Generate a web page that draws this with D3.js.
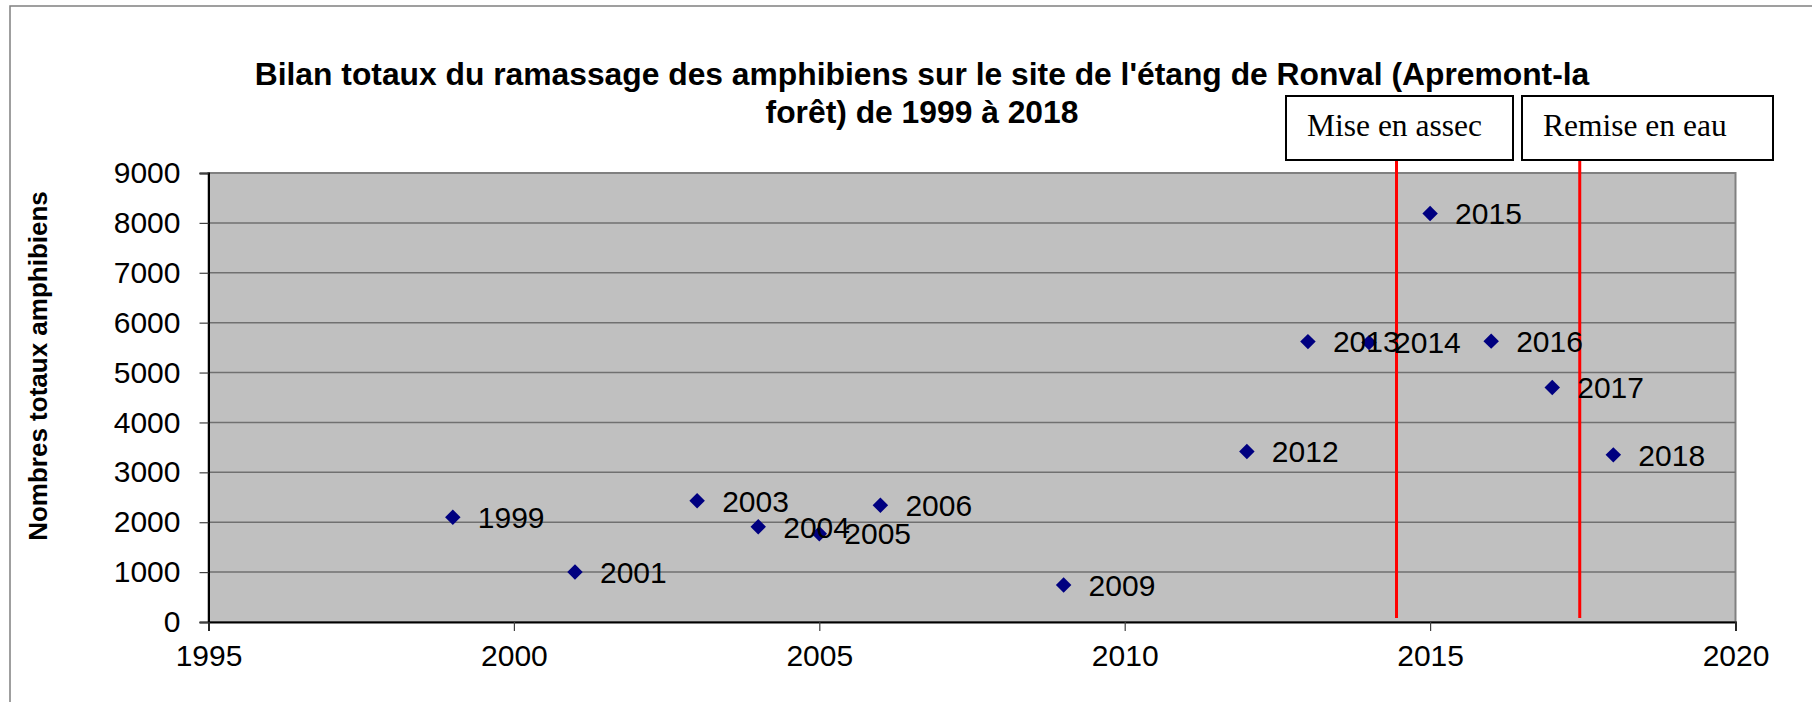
<!DOCTYPE html>
<html>
<head>
<meta charset="utf-8">
<script src="https://cdn.jsdelivr.net/npm/d3@7"></script>
<style>
body { margin: 0; background: #fff; }
text { font-family: "Liberation Sans", Arial, sans-serif; }
</style>
</head>
<body>
<div id="chart"></div>
<script>
// data
const years = [1999, 2001, 2003, 2004, 2005, 2006, 2009, 2012, 2013, 2014, 2015, 2016, 2017, 2018];
const totals = [2100, 1000, 2430, 1910, 1770, 2340, 740, 3420, 5620, 5600, 8190, 5630, 4700, 3350];
const pointLabels = ["1999", "2001", "2003", "2004", "2005", "2006", "2009", "2012", "2013", "2014", "2015", "2016", "2017", "2018"];
const xTicks = [1995, 2000, 2005, 2010, 2015, 2020];
const yTicks = [0, 1000, 2000, 3000, 4000, 5000, 6000, 7000, 8000, 9000];
const eventNames = ["Mise en assec", "Remise en eau"];
const eventYears = [2014.45, 2017.45];
const titleLines = ["Bilan totaux du ramassage des amphibiens sur le site de l'étang de Ronval (Apremont-la", "forêt) de 1999 à 2018"];
const yLabel = "Nombres totaux amphibiens";

const width = 1812;
const height = 702;
const plot = {left: 208.5, right: 1735.5, top: 173, bottom: 622};

const svg = d3.select('#chart')
    .append('svg')
        .attr('width', width)
        .attr('height', height);

// outer frame (cut off on the right and bottom like the source)
svg.append('rect')
    .attr('x', 10).attr('y', 6)
    .attr('width', 1830).attr('height', 720)
    .attr('fill', 'none')
    .attr('stroke', '#808080')
    .attr('stroke-width', 1.5);

const xScale = d3.scaleLinear()
    .domain([1995, 2020])
    .range([plot.left, plot.right]);

const yScale = d3.scaleLinear()
    .domain([0, 9000])
    .range([plot.bottom, plot.top]);

// plot background
svg.append('rect')
    .attr('x', plot.left).attr('y', plot.top)
    .attr('width', plot.right - plot.left)
    .attr('height', plot.bottom - plot.top)
    .attr('fill', '#c0c0c0')
    .attr('stroke', '#808080')
    .attr('stroke-width', 2);

// gridlines
svg.append('g')
    .selectAll('line')
    .data(yTicks.filter(d => d > 0 && d < 9000))
    .enter()
        .append('line')
            .attr('x1', plot.left).attr('x2', plot.right)
            .attr('y1', d => yScale(d)).attr('y2', d => yScale(d))
            .attr('stroke', '#707070')
            .attr('stroke-width', 1.5);

// y axis
const yAxis = svg.append('g')
    .attr('transform', `translate(${plot.left},0)`)
    .call(d3.axisLeft(yScale).tickValues(yTicks).tickSize(9).tickPadding(19).tickFormat(d3.format('d')));
yAxis.select('.domain').attr('stroke', '#000').attr('stroke-width', 2);
yAxis.selectAll('.tick line').attr('stroke', '#404040').attr('stroke-width', 1.2);
yAxis.selectAll('text')
    .attr('fill', '#000')
    .style('font-size', '30px')
    .style('font-family', '"Liberation Sans", Arial, sans-serif');

// x axis
const xAxis = svg.append('g')
    .attr('transform', `translate(0,${plot.bottom})`)
    .call(d3.axisBottom(xScale).tickValues(xTicks).tickSize(9).tickPadding(14).tickFormat(d3.format('d')));
xAxis.select('.domain').attr('stroke', '#000').attr('stroke-width', 2);
xAxis.selectAll('.tick line').attr('stroke', '#404040').attr('stroke-width', 1.2);
xAxis.selectAll('text')
    .attr('fill', '#000')
    .style('font-size', '30px')
    .style('font-family', '"Liberation Sans", Arial, sans-serif');

// title
svg.append('text')
    .attr('x', 922)
    .attr('text-anchor', 'middle')
    .style('font-weight', 'bold')
    .style('font-size', '31.8px')
    .selectAll('tspan')
    .data(titleLines)
    .enter()
        .append('tspan')
            .attr('x', 922)
            .attr('y', (d, i) => 85 + i * 37.7)
            .text(d => d);

// y axis label
svg.append('text')
    .attr('transform', 'rotate(-90)')
    .attr('x', -366)
    .attr('y', 47)
    .attr('text-anchor', 'middle')
    .style('font-weight', 'bold')
    .style('font-size', '26px')
    .text(yLabel);

// event lines and boxes
const boxes = [{x: 1286, w: 227}, {x: 1522, w: 251}];
svg.append('g')
    .selectAll('line')
    .data(eventYears)
    .enter()
        .append('line')
            .attr('x1', d => xScale(d)).attr('x2', d => xScale(d))
            .attr('y1', 160).attr('y2', 618)
            .attr('stroke', '#ff0000')
            .attr('stroke-width', 3);

let boxG = svg.append('g')
    .selectAll('g')
    .data(eventNames)
    .enter()
        .append('g')
            .attr('transform', (d, i) => `translate(${boxes[i].x},96)`);
boxG.append('rect')
    .attr('width', (d, i) => boxes[i].w)
    .attr('height', 64)
    .attr('fill', '#fff')
    .attr('stroke', '#000')
    .attr('stroke-width', 2);
boxG.append('text')
    .attr('x', 21)
    .attr('y', 40)
    .style('font-family', '"Liberation Serif", "Times New Roman", serif')
    .style('font-size', '31.5px')
    .text(d => d);

// points
const pts = years.map((y, i) => ({x: y, y: totals[i], label: pointLabels[i]}));
const diamond = d3.symbol().type(d3.symbolSquare).size(120);

svg.append('g')
    .selectAll('path')
    .data(pts)
    .enter()
        .append('path')
            .attr('d', diamond)
            .attr('transform', d => `translate(${xScale(d.x)},${yScale(d.y)}) rotate(45)`)
            .attr('fill', '#000080');

svg.append('g')
    .selectAll('text')
    .data(pts)
    .enter()
        .append('text')
            .attr('x', d => xScale(d.x) + 25)
            .attr('y', d => yScale(d.y))
            .attr('dy', '0.36em')
            .style('font-size', '30px')
            .text(d => d.label);
</script>
</body>
</html>
